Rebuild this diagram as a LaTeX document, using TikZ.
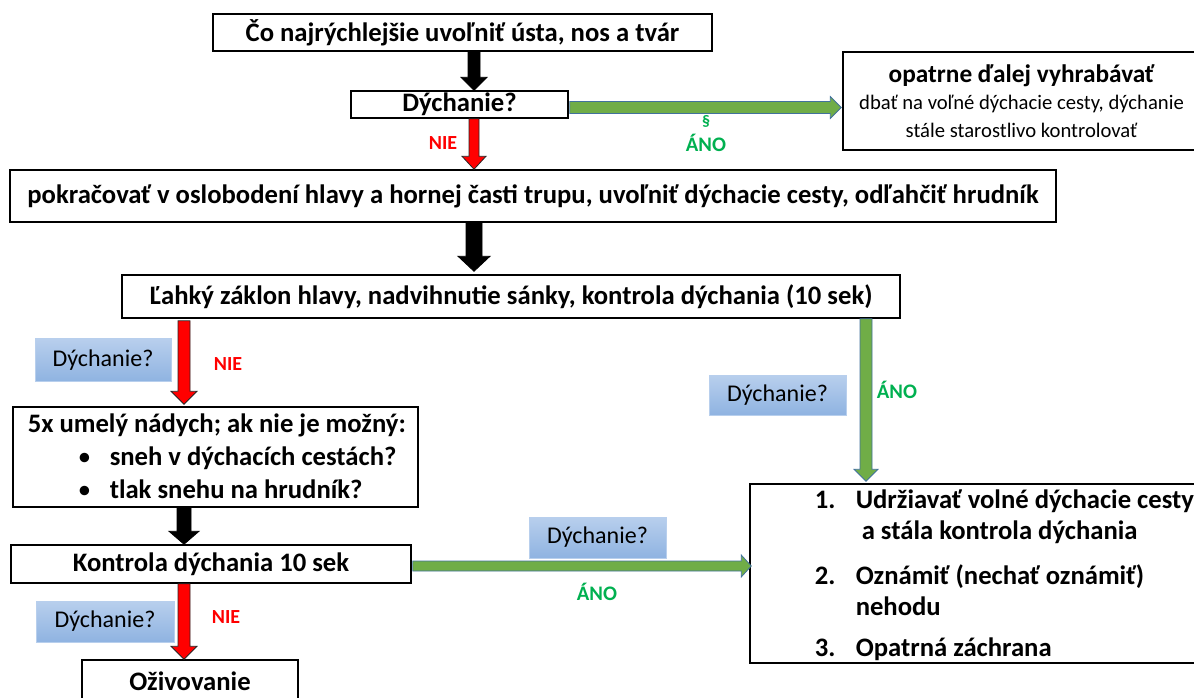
\documentclass[tikz,border=0pt]{standalone}
\usepackage{fontspec}
\setmainfont{Carlito}
\usetikzlibrary{calc}
\newdimen\px \px=0.75pt
\definecolor{arrgreen}{RGB}{112,173,71}
\definecolor{arrblue}{RGB}{65,113,156}
\definecolor{txtgreen}{RGB}{0,176,80}
\definecolor{lbltop}{RGB}{184,207,237}
\definecolor{lblbot}{RGB}{143,179,225}
\begin{document}
\begin{tikzpicture}[x=0.75pt,y=-0.75pt,
	box/.style={draw=black,line width=1.5\px,fill=white,inner sep=0pt,font=\bfseries\fontsize{20}{24}\selectfont},
	lbl/.style={top color=lbltop,bottom color=lblbot,draw=lbltop,line width=0.5\px,inner sep=0pt,font=\fontsize{18}{21}\selectfont},
	nie/.style={text=red,font=\bfseries\fontsize{15}{18}\selectfont},
	ano/.style={text=txtgreen,font=\bfseries\fontsize{15.5}{18}\selectfont},
	arrsw/.store in=\arrsw, arrhw/.store in=\arrhw, arrhl/.store in=\arrhl,
	blockarr/.style={line width=0.8\px,line join=miter,to path={
		($(\tikztostart)!\arrsw!90:(\tikztotarget)$)
		-- ($(\tikztotarget)!\arrhl!(\tikztostart)!\arrsw!90:(\tikztotarget)$)
		-- ($(\tikztotarget)!\arrhl!(\tikztostart)!\arrhw!90:(\tikztotarget)$)
		-- (\tikztotarget)
		-- ($(\tikztotarget)!\arrhl!(\tikztostart)!\arrhw!-90:(\tikztotarget)$)
		-- ($(\tikztotarget)!\arrhl!(\tikztostart)!\arrsw!-90:(\tikztotarget)$)
		-- ($(\tikztostart)!\arrsw!-90:(\tikztotarget)$) -- cycle}},
	blackarr/.style={blockarr,fill=black,draw=black},
	redarr/.style={blockarr,fill=red,draw=black!85},
	greenarr/.style={blockarr,fill=arrgreen,draw=arrblue}]
	\useasboundingbox (0,0) rectangle (1194,697);

	%COLUMNS OF THE ARROWS
	\coordinate (ax) at (474,0);
	\coordinate (lcol) at (184,0);
	\coordinate (rcol) at (866,0);

	%BOXES
	\node[box,minimum width=499\px,minimum height=37\px] (top) at (462.5,32.5) {Čo najrýchlejšie uvoľniť ústa, nos a tvár};
	\node[box,minimum width=217\px,minimum height=27\px] (dych) at (459.5,104.5) {Dýchanie?};
	\node[box,minimum width=357\px,minimum height=98\px,align=center] (opatrne) at (1021.5,101)
		{\fontsize{19}{21}\selectfont opatrne ďalej vyhrabávať\\[-5\px]
		 \mdseries\fontsize{15.5}{18.75}\selectfont dbať na voľné dýchacie cesty, dýchanie\\[-4\px]
		 \mdseries\fontsize{15.5}{18.75}\selectfont stále starostlivo kontrolovať};
	\node[box,minimum width=1046\px,minimum height=52\px] (pokr) at (533,196) {pokračovať v oslobodení hlavy a hornej časti trupu, uvoľniť dýchacie cesty, odľahčiť hrudník};
	\node[box,minimum width=778\px,minimum height=43\px] (lahky) at (511,296.5) {Ľahký záklon hlavy, nadvihnutie sánky, kontrola dýchania (10 sek)};
	\node[box,minimum width=405\px,minimum height=100\px] (umely) at (215.5,457) {};
	\node[box,draw=none,fill=none,anchor=base west] (umelytxt) at (27,432)
		{\fontsize{20}{24.75}\selectfont\begin{tabular}[t]{@{}p{50\px}@{}p{32\px}@{}l@{}}
		\multicolumn{3}{@{}l@{}}{5x umelý nádych; ak nie je možný:}\\
		& \mdseries• & sneh v dýchacích cestách?\\
		& \mdseries• & tlak snehu na hrudník?
		\end{tabular}};
	\node[box,minimum width=400\px,minimum height=38\px] (kontrola) at (211,564) {Kontrola dýchania 10 sek};
	\node[box,minimum width=450\px,minimum height=179\px] (udrz) at (975,573.5) {};
	\node[box,draw=none,fill=none,anchor=base west] (udrzlist) at (814,508)
		{\fontsize{20}{23.25}\selectfont\begin{tabular}[t]{@{}p{41\px}@{}l@{}}
		1. & Udržiavať volné dýchacie cesty\\
		& \ a stála kontrola dýchania\\[14\px]
		2. & Oznámiť (nechať oznámiť)\\
		& nehodu\\[10\px]
		3. & Opatrná záchrana
		\end{tabular}};
	\node[box,minimum width=216\px,minimum height=42\px] (oziv) at (190,681) {Oživovanie};

	%QUESTION LABELS
	\node[lbl,minimum width=136\px,minimum height=43\px] (lbl1) at (103,360) {Dýchanie?};
	\node[lbl,minimum width=137\px,minimum height=40\px] (lbl2) at (777.5,395) {Dýchanie?};
	\node[lbl,minimum width=137\px,minimum height=41\px] (lbl3) at (597.5,537.5) {Dýchanie?};
	\node[lbl,minimum width=138\px,minimum height=41\px] (lbl4) at (105,621.5) {Dýchanie?};

	%ANSWERS
	\node[nie] (nie1) at (443,143) {NIE};
	\node[nie] (nie2) at (228,364) {NIE};
	\node[nie] (nie3) at (226,617) {NIE};
	\node[ano] (ano1) at (706,143) {ÁNO};
	\node[ano] (ano2) at (897,390) {ÁNO};
	\node[ano] (ano3) at (597,592) {ÁNO};
	\node[text=txtgreen,font=\bfseries\fontsize{12}{14}\selectfont] (par) at (706,121) {§};

	%BLOCK ARROWS
	\draw[blackarr,arrsw=6\px,arrhw=13\px,arrhl=13\px] (top.south -| ax) to (dych.north -| ax);
	\draw[greenarr,arrsw=6\px,arrhw=11\px,arrhl=11\px] ($(dych.east)+(1,3)$) to ($(opatrne.west |- dych.east)+(-1,3)$);
	\draw[redarr,arrsw=5\px,arrhw=12\px,arrhl=13\px] (dych.south -| ax) to (pokr.north -| ax);
	\draw[blackarr,arrsw=8\px,arrhw=16\px,arrhl=15\px] (pokr.south -| ax) to ($(lahky.north -| ax)+(0,-3)$);
	\draw[redarr,arrsw=6\px,arrhw=13\px,arrhl=13\px] ($(lahky.south -| lcol)+(0,2)$) to ($(umely.north -| lcol)+(0,-2)$);
	\draw[greenarr,arrsw=6\px,arrhw=12\px,arrhl=12\px] (lahky.south -| rcol) to ($(udrz.north -| rcol)+(0,-2)$);
	\draw[blackarr,arrsw=7\px,arrhw=15\px,arrhl=13\px] (umely.south -| lcol) to (kontrola.north -| lcol);
	\draw[greenarr,arrsw=5\px,arrhw=11\px,arrhl=10\px] ($(kontrola.east)+(1,2)$) to ($(udrz.west |- kontrola.east)+(2,2)$);
	\draw[redarr,arrsw=6\px,arrhw=13\px,arrhl=13\px] (kontrola.south -| lcol) to (oziv.north -| lcol);
\end{tikzpicture}
\end{document}
